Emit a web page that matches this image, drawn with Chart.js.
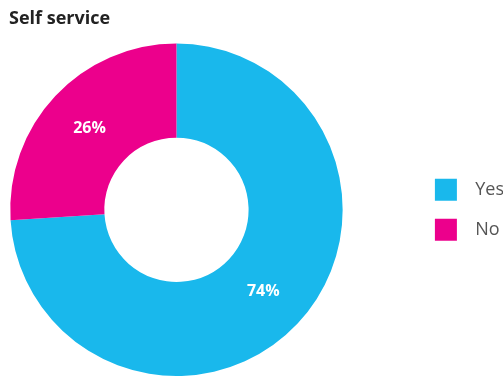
<!DOCTYPE html>
<html>
<head>
<meta charset="utf-8">
<script src="https://cdn.jsdelivr.net/npm/chart.js@4/dist/chart.umd.min.js"></script>
<style>
  html, body { margin: 0; padding: 0; background: #fff; overflow: hidden; }
  #wrap { position: relative; width: 514px; height: 377px; }
</style>
</head>
<body>
<div id="wrap"><canvas id="selfServiceChart"></canvas></div>
<script>
const answers = ["Yes", "No"];
const shares = [74, 26];
const sliceColors = ["#19b8ec", "#ec008c"];

// white percentage text in the middle of each slice
const sliceLabels = {
  id: "sliceLabels",
  afterDatasetsDraw(chart) {
    const ctx = chart.ctx;
    const meta = chart.getDatasetMeta(0);
    const values = chart.data.datasets[0].data;
    const total = values.reduce((a, b) => a + b, 0);
    ctx.save();
    ctx.font = 'bold 16px "Open Sans"';
    ctx.fillStyle = "#ffffff";
    ctx.textAlign = "center";
    ctx.textBaseline = "middle";
    meta.data.forEach((arc, i) => {
      const pos = arc.tooltipPosition();
      ctx.fillText(Math.round(values[i] / total * 100) + "%", pos.x, pos.y);
    });
    ctx.restore();
  }
};

const ctx = document.getElementById("selfServiceChart").getContext("2d");

new Chart(ctx, {
  type: "doughnut",
  data: {
    labels: answers,
    datasets: [
      {
        data: shares,
        backgroundColor: sliceColors,
        borderWidth: 0
      }
    ]
  },
  options: {
    responsive: true,
    maintainAspectRatio: false,
    animation: false,
    cutout: "43.4%",
    layout: {
      padding: { left: 9, right: 0, top: 0, bottom: 1 }
    },
    scales: {
      // empty axis, only keeps a gap between the ring and the legend
      gap: {
        type: "linear",
        axis: "y",
        position: "right",
        display: true,
        grid: { display: false },
        border: { display: false },
        ticks: { display: false },
        afterFit: function (scale) {
          scale.width = 73;
        }
      }
    },
    plugins: {
      title: {
        display: true,
        text: "Self service",
        align: "start",
        color: "#222222",
        font: { family: "'Open Sans'", size: 18, weight: "bold" },
        padding: { top: 8, bottom: 14 }
      },
      legend: {
        position: "right",
        fullSize: false,
        labels: {
          boxWidth: 22,
          boxHeight: 22,
          padding: 18,
          color: "#555555",
          font: { family: "'Open Sans'", size: 18 },
          generateLabels: function (chart) {
            const items = Chart.overrides.doughnut.plugins.legend.labels.generateLabels(chart);
            return items.map(item => Object.assign(item, { text: "  " + item.text }));
          }
        }
      },
      tooltip: { enabled: false }
    }
  },
  plugins: [sliceLabels]
});
</script>
</body>
</html>
